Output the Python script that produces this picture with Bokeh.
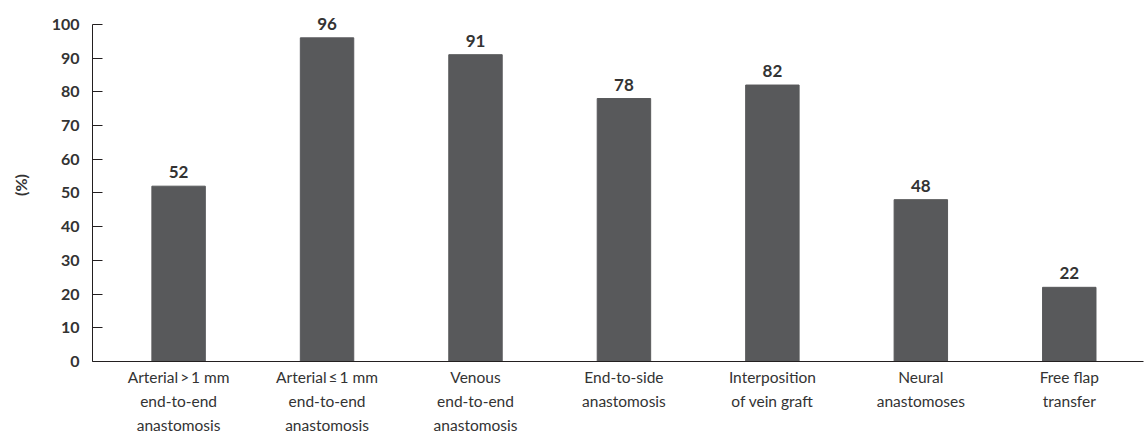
from bokeh.plotting import figure
from bokeh.models import FixedTicker, Range1d, ColumnDataSource
from bokeh.embed import file_html
from bokeh.resources import INLINE
from bokeh.core.properties import value

categories = [
    "Arterial\u2009>\u20091 mm\nend-to-end\nanastomosis",
    "Arterial\u2009\u2264\u20091 mm\nend-to-end\nanastomosis",
    "Venous\nend-to-end\nanastomosis",
    "End-to-side\nanastomosis",
    "Interposition\nof vein graft",
    "Neural\nanastomoses",
    "Free flap\ntransfer",
]
values = [52, 96, 91, 78, 82, 48, 22]
y_ticks = [0, 10, 20, 30, 40, 50, 60, 70, 80, 90, 100]

FONT = "Lato"
xs = list(range(len(categories)))
src = ColumnDataSource(dict(x=xs, top=values, lbl=[str(v) for v in values]))

p = figure(width=1146, height=437, output_backend="svg", toolbar_location=None,
           x_range=Range1d(-0.58, 6.5), y_range=Range1d(0, 104.7),
           min_border_left=92, min_border_right=3, min_border_top=8, min_border_bottom=75)
p.outline_line_color = None
p.grid.visible = False

p.vbar(x="x", top="top", width=0.36, source=src, color="#58595b")
p.text(x="x", y="top", text="lbl", source=src, text_align="center", text_baseline="alphabetic",
       y_offset=-14, text_font=value(FONT), text_font_style="bold", text_font_size="17px",
       text_color="#333333")

xa = p.xaxis[0]
xa.ticker = FixedTicker(ticks=xs)
xa.major_label_overrides = {i: c for i, c in enumerate(categories)}
xa.major_tick_in = 0
xa.major_tick_out = 0
xa.minor_tick_line_color = None
xa.major_label_text_font = FONT
xa.major_label_text_font_size = "15.5px"
xa.major_label_text_color = "#333333"
xa.major_label_text_line_height = 1.35
xa.major_label_standoff = 6
xa.axis_line_color = "#231f20"

ya = p.yaxis[0]
ya.ticker = FixedTicker(ticks=y_ticks)
ya.bounds = (0, 100)
ya.major_tick_in = 10
ya.major_tick_out = 0
ya.minor_tick_line_color = None
ya.major_label_text_font = FONT
ya.major_label_text_font_style = "bold"
ya.major_label_text_font_size = "16px"
ya.major_label_text_color = "#333333"
ya.major_label_standoff = 13
ya.axis_line_color = "#231f20"
ya.major_tick_line_color = "#231f20"
ya.axis_label = "(%)"
ya.axis_label_text_font = FONT
ya.axis_label_text_font_style = "bold"
ya.axis_label_text_font_size = "16px"
ya.axis_label_text_color = "#333333"
ya.axis_label_standoff = 19

open("out.html", "w").write(file_html(p, INLINE))
